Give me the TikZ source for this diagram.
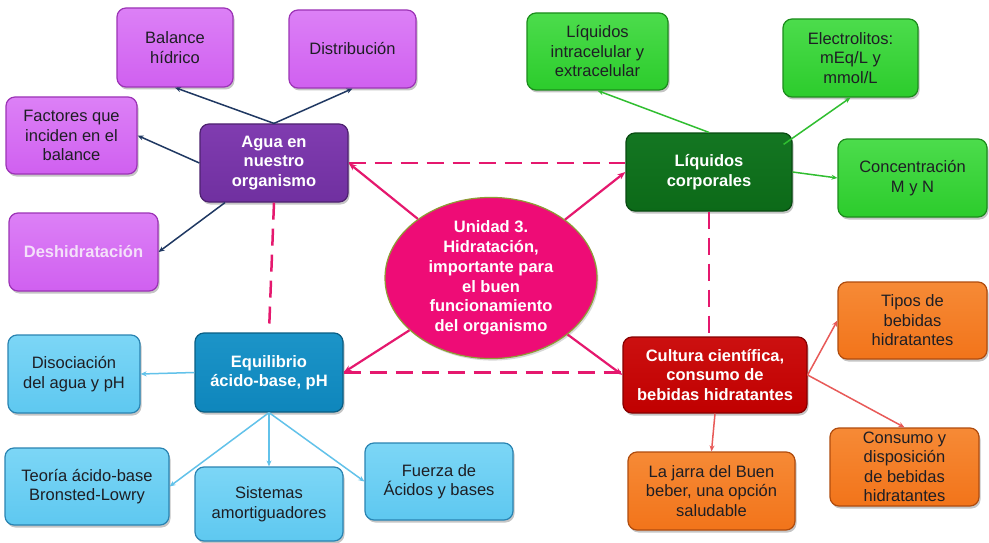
\documentclass[tikz,border=0pt]{standalone}
\usepackage{fontspec}
\setmainfont{Liberation Sans}
\usetikzlibrary{shadows,arrows.meta,shapes.geometric}
\definecolor{lpurp}{HTML}{D060F0}
\definecolor{lpurpT}{HTML}{DC80F6}
\definecolor{lpurpB}{HTML}{9C34B6}
\definecolor{dpurp}{HTML}{7030A0}
\definecolor{dpurpT}{HTML}{803CB0}
\definecolor{lgreen}{HTML}{2CCC2C}
\definecolor{lgreenT}{HTML}{4CDC4C}
\definecolor{lgreenB}{HTML}{1C8C1C}
\definecolor{dgreen}{HTML}{0C6A18}
\definecolor{dgreenT}{HTML}{147622}
\definecolor{lblue}{HTML}{5EC8F0}
\definecolor{lblueT}{HTML}{7CD6F6}
\definecolor{lblueB}{HTML}{2A84B2}
\definecolor{dblue}{HTML}{0E86BC}
\definecolor{dblueT}{HTML}{1C94C8}
\definecolor{lorange}{HTML}{F2741A}
\definecolor{lorangeT}{HTML}{F68A36}
\definecolor{lorangeB}{HTML}{B04C0E}
\definecolor{dred}{HTML}{C00000}
\definecolor{dredT}{HTML}{CC1010}
\definecolor{hpink}{HTML}{EE0C76}
\definecolor{pinkline}{HTML}{E5186E}
\definecolor{olive}{HTML}{8E9C34}
\definecolor{navy}{HTML}{1F3862}
\definecolor{gline}{HTML}{30BE30}
\definecolor{bline}{HTML}{62C2EA}
\definecolor{rline}{HTML}{E85A58}
\definecolor{txt}{HTML}{1E1E24}
\definecolor{lavtxt}{HTML}{F4E0FA}
\begin{document}
\begin{tikzpicture}[x=1pt,y=-1pt,
  base/.style={rounded corners=9pt, line width=1.2pt, align=center, inner sep=0pt,
    font=\fontsize{16.5}{19.5}\selectfont,
    drop shadow={opacity=0.45, shadow xshift=1.5pt, shadow yshift=-2.5pt}},
  sz/.style 2 args={minimum width=#1pt, minimum height=#2pt},
  pbox/.style={base, draw=lpurpB, top color=lpurpT, bottom color=lpurp, text=txt},
  pmain/.style={base, draw=dpurp!70!black, top color=dpurpT, bottom color=dpurp, text=white, font=\fontsize{16.5}{19.5}\selectfont\bfseries},
  gbox/.style={base, draw=lgreenB, top color=lgreenT, bottom color=lgreen, text=txt},
  gmain/.style={base, draw=dgreen!70!black, top color=dgreenT, bottom color=dgreen, text=white, font=\fontsize{16.5}{19.5}\selectfont\bfseries},
  bbox/.style={base, draw=lblueB, top color=lblueT, bottom color=lblue, text=txt},
  bmain/.style={base, draw=dblue!70!black, top color=dblueT, bottom color=dblue, text=white, font=\fontsize{16.5}{19.5}\selectfont\bfseries},
  obox/.style={base, draw=lorangeB, top color=lorangeT, bottom color=lorange, text=txt},
  omain/.style={base, draw=dred!70!black, top color=dredT, bottom color=dred, text=white, font=\fontsize{16.5}{19.5}\selectfont\bfseries},
  navyarrow/.style={draw=navy, line width=1.5pt, -{Stealth[length=6pt,width=5pt]}},
  garrow/.style={draw=gline, line width=1.5pt, -{Stealth[length=6pt,width=5pt]}},
  barrow/.style={draw=bline, line width=1.5pt, -{Stealth[length=6pt,width=5pt]}},
  rarrow/.style={draw=rline, line width=1.5pt, -{Stealth[length=6pt,width=5pt]}},
  parrow/.style={draw=pinkline, line width=2.2pt, -{Stealth[length=8pt,width=6pt]}},
  pdash/.style={draw=pinkline, line width=2.5pt, dash pattern=on 17pt off 9pt}
]
\useasboundingbox[fill=white] (0,0) rectangle (989,543);

% purple group
\node[pbox, sz={116}{79}] (balance) at (175,47.5) {Balance\\hídrico};
\node[pbox, sz={127}{78}] (distrib) at (352.5,49) {Distribución};
\node[pbox, sz={131}{77}] (factores) at (71.5,135.5) {Factores que\\inciden en el\\balance};
\node[pmain, sz={148}{78}] (agua) at (274,163) {Agua en\\nuestro\\organismo};
\node[pbox, sz={149}{78}, text=lavtxt, font=\fontsize{16.5}{19.5}\selectfont\bfseries] (deshid) at (83.5,252) {Deshidratación};

% green group
\node[gbox, sz={141}{77}] (liqintra) at (597.5,51.5) {Líquidos\\intracelular y\\extracelular};
\node[gbox, sz={135}{78}] (electro) at (850.5,58) {Electrolitos:\\mEq/L y\\mmol/L};
\node[gmain, sz={166}{78}] (liqcorp) at (709,172) {Líquidos\\corporales};
\node[gbox, sz={149}{78}] (concen) at (912.5,178) {Concentración\\M y N};

% blue group
\node[bbox, sz={132}{78}] (disoc) at (74,374) {Disociación\\del agua y pH};
\node[bmain, sz={148}{79}] (equil) at (269,372.5) {Equilibrio\\ácido-base, pH};
\node[bbox, sz={164}{77}] (teoria) at (87,486.5) {Teoría ácido-base\\Bronsted-Lowry};
\node[bbox, sz={148}{74}] (sistemas) at (269,504) {Sistemas\\amortiguadores};
\node[bbox, sz={148}{77}] (fuerza) at (439,481.5) {Fuerza de\\Ácidos y bases};

% orange group
\node[omain, sz={184}{76}] (cultura) at (715,375) {Cultura científica,\\consumo de\\bebidas hidratantes};
\node[obox, sz={149}{77}] (tipos) at (912.5,320.5) {Tipos de\\bebidas\\hidratantes};
\node[obox, sz={149}{78}] (consumo) at (904.5,467) {Consumo y\\disposición\\de bebidas\\hidratantes};
\node[obox, sz={167}{78}] (jarra) at (711.5,491) {La jarra del Buen\\beber, una opción\\saludable};

% center
\node[ellipse, draw=olive, line width=1.2pt, fill=hpink, minimum width=212pt, minimum height=150pt, inner sep=0pt,
  align=center, text=white, font=\fontsize{16.5}{19.7}\selectfont\bfseries,
  drop shadow={opacity=0.3, shadow xshift=1.5pt, shadow yshift=-2pt}] (center) at (491,278)
  {Unidad 3.\\Hidratación,\\importante para\\el buen\\funcionamiento\\del organismo};

% dashed links
\draw[pdash] (agua.east) -- (agua.east -| liqcorp.west);
\draw[pdash] (equil.east) -- (equil.east -| cultura.west);
\draw[pdash] (agua.south) -- (equil.north);
\draw[pdash] (liqcorp.south) -- (liqcorp.south |- cultura.north);

% center arrows
\draw[parrow] (center) -- (agua.east);
\draw[parrow] (center) -- (liqcorp.west);
\draw[parrow] (center) -- (equil.east);
\draw[parrow] (center) -- (cultura.west);

% purple arrows
\draw[navyarrow] (agua.north) -- (balance.south);
\draw[navyarrow] (agua.north) -- (distrib.south);
\draw[navyarrow] (agua.west) -- (factores.east);
\draw[navyarrow] ([xshift=-49pt]agua.south) -- (deshid.east);

% green arrows
\draw[garrow] (liqcorp.north) -- (liqintra.south);
\draw[garrow] ([shift={(-9,12)}]liqcorp.north east) -- (electro.south);
\draw[garrow] (liqcorp.east) -- (concen.west);

% blue arrows
\draw[barrow] (equil.west) -- (disoc.east);
\draw[barrow] (equil.south) -- (teoria.east);
\draw[barrow] (equil.south) -- (sistemas.north);
\draw[barrow] (equil.south) -- (fuerza.west);

% orange arrows
\draw[rarrow] (cultura.east) -- (tipos.west);
\draw[rarrow] (cultura.east) -- (consumo.north);
\draw[rarrow] (cultura.south) -- (jarra.north);
\end{tikzpicture}
\end{document}
